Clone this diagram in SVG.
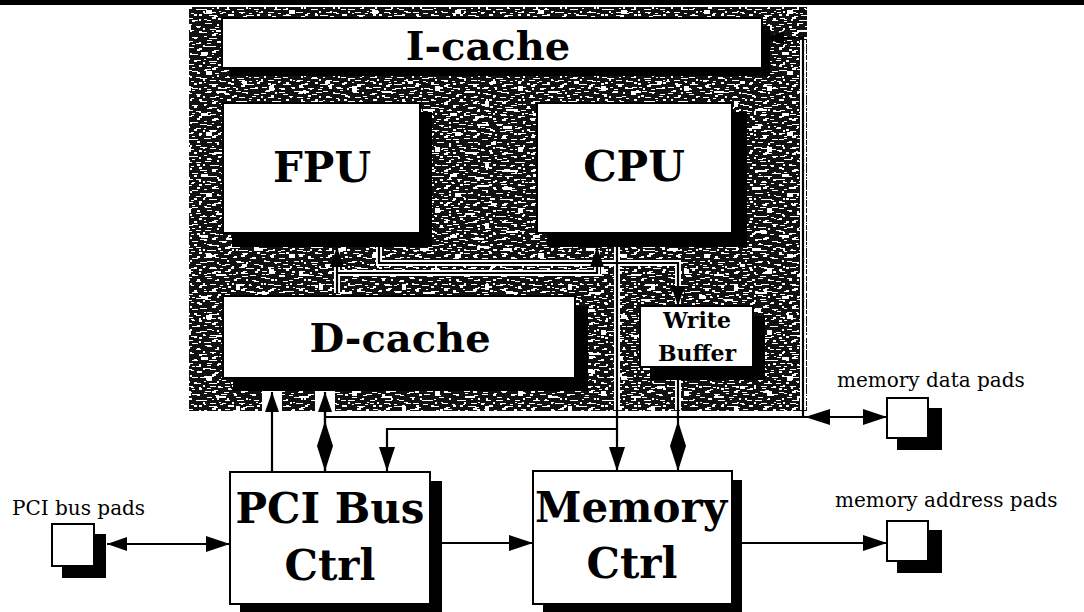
<svg xmlns="http://www.w3.org/2000/svg" width="1084" height="612" viewBox="0 0 1084 612">
<style>
.box{fill:#fff;stroke:#000;stroke-width:2}
.sh{fill:#000}
.big{font-family:"DejaVu Serif","Liberation Serif",serif;font-weight:bold;text-anchor:middle;fill:#000}
.lbl{font-family:"DejaVu Serif","Liberation Serif",serif;font-size:20px;fill:#000}
.w{fill:none;stroke:#000;stroke-width:2.2}
.halo{fill:none;stroke:#fff;stroke-width:6}
.pad{fill:#fff;stroke:#000;stroke-width:2}
</style>
<defs>
<pattern id="n1" width="37" height="23" patternUnits="userSpaceOnUse">
<rect width="37" height="23" fill="#111"/>
<path fill="#fff" d="M2 1h5v1h-5z M12 3h3v2h-3z M20 0h6v1h-6z M30 4h4v1h-4z M5 7h2v2h-2z M15 9h7v1h-7z M27 8h2v1h-2z M0 12h4v1h-4z M9 14h3v2h-3z M19 13h2v1h-2z M24 15h8v1h-8z M3 18h5v1h-5z M14 19h2v2h-2z M22 20h4v1h-4z M33 18h3v2h-3z M7 21h3v1h-3z M34 11h2v1h-2z"/>
</pattern>
<pattern id="n2" width="29" height="17" patternUnits="userSpaceOnUse">
<path fill="#fff" d="M1 2h3v1h-3z M9 0h4v2h-4z M18 3h6v1h-6z M4 6h5v1h-5z M14 7h2v2h-2z M22 9h5v1h-5z M0 11h2v2h-2z M7 12h6v1h-6z M17 13h3v1h-3z M25 14h3v2h-3z M11 16h4v1h-4z"/>
</pattern>
<pattern id="n3" width="83" height="61" patternUnits="userSpaceOnUse">
<path fill="#fff" d="M5 4h9v3h-9z M40 10h6v4h-6z M62 2h12v2h-12z M20 25h5v5h-5z M50 30h10v2h-10z M70 40h4v6h-4z M8 48h12v2h-12z M35 52h7v3h-7z M60 55h9v2h-9z M76 20h5v3h-5z"/>
</pattern>
<marker id="ar" markerUnits="userSpaceOnUse" markerWidth="24" markerHeight="16" refX="24" refY="8" orient="auto"><path d="M0,0 L24,8 L0,16 z" fill="#000"/></marker>
<marker id="ars" markerUnits="userSpaceOnUse" markerWidth="20" markerHeight="14" refX="20" refY="7" orient="auto"><path d="M0,0 L20,7 L0,14 z" fill="#000"/></marker>
<marker id="arst" markerUnits="userSpaceOnUse" markerWidth="20" markerHeight="14" refX="0" refY="7" orient="auto"><path d="M20,0 L0,7 L20,14 z" fill="#000"/></marker>
<marker id="dia" markerUnits="userSpaceOnUse" markerWidth="50" markerHeight="16" refX="50" refY="8" orient="auto"><path d="M0,8 L25,0 L50,8 L25,16 z" fill="#000"/></marker>
</defs>

<rect x="0" y="0" width="1084" height="5" fill="#000"/>

<g id="chip">
<rect x="189" y="7" width="618" height="404" fill="url(#n1)"/>
<rect x="189" y="7" width="618" height="404" fill="url(#n2)"/>
<rect x="189" y="7" width="618" height="404" fill="url(#n3)"/>
</g>

<g id="connectors">
<g class="halo">
<path d="M337,293 V250"/>
<path d="M337,273 H597 V250"/>
<path d="M379,247 V263 H678 V304"/>
<path d="M617,247 V410"/>
<path d="M678,380 V410"/>
<path d="M803,40 V410"/>
</g>
<rect x="262" y="391" width="20" height="21" fill="#fff"/>
<rect x="315" y="391" width="20" height="21" fill="#fff"/>
<path class="w" d="M337,293 V247" marker-end="url(#ars)"/>
<path class="w" d="M337,273 H597 V247" marker-end="url(#ars)"/>
<path class="w" d="M379,247 V263 H678 V306" marker-end="url(#ars)"/>
<path class="w" d="M803,417 V38 H764" marker-end="url(#ars)"/>
<path class="w" d="M617,247 V471" marker-end="url(#ar)"/>
<path class="w" d="M617,429 H387 V471" marker-end="url(#ar)"/>
<path class="w" d="M678,380 V471" marker-end="url(#dia)"/>
<path class="w" d="M272,471 V392" marker-end="url(#ars)"/>
<path class="w" d="M325,471 V392" marker-end="url(#ars)"/>
<path class="w" d="M325,410 V471" marker-end="url(#dia)"/>
<path class="w" d="M325,417 H887" marker-end="url(#ar)"/>
<polygon points="805,417 830,409 830,425" fill="#000"/>
<path class="w" d="M107,544 H230" marker-start="url(#arst)" marker-end="url(#ar)"/>
<path class="w" d="M442,543 H533" marker-end="url(#ar)"/>
<path class="w" d="M742,543 H887" marker-end="url(#ar)"/>
</g>

<g id="icache">
<rect class="sh" x="230" y="26" width="540" height="50"/>
<rect class="box" x="222" y="18" width="540" height="50"/>
<text class="big" x="488" y="60" font-size="40">I-cache</text>
</g>
<g id="fpu">
<rect class="sh" x="232" y="112" width="200" height="135"/>
<rect class="box" x="223" y="103" width="197" height="130"/>
<text class="big" x="322" y="182" font-size="42">FPU</text>
</g>
<g id="cpu">
<rect class="sh" x="547" y="112" width="200" height="135"/>
<rect class="box" x="537" y="103" width="195" height="130"/>
<text class="big" x="634" y="181" font-size="42">CPU</text>
</g>
<g id="dcache">
<rect class="sh" x="233" y="306" width="355" height="85"/>
<rect class="box" x="223" y="296" width="352" height="82"/>
<text class="big" x="400" y="352" font-size="40">D-cache</text>
</g>
<g id="wbuf">
<rect class="sh" x="650" y="316" width="115" height="64"/>
<rect class="box" x="640" y="306" width="113" height="61"/>
<text class="big" x="697" y="328" font-size="22">Write</text>
<text class="big" x="697" y="361" font-size="22">Buffer</text>
</g>
<g id="pcictrl">
<rect class="sh" x="240" y="481" width="202" height="131"/>
<rect class="box" x="230" y="472" width="200" height="132"/>
<text class="big" x="330" y="523" font-size="42">PCI Bus</text>
<text class="big" x="330" y="580" font-size="42">Ctrl</text>
</g>
<g id="memctrl">
<rect class="sh" x="543" y="480" width="199" height="132"/>
<rect class="box" x="533" y="471" width="199" height="133"/>
<text class="big" x="631" y="522" font-size="42">Memory</text>
<text class="big" x="632" y="578" font-size="42">Ctrl</text>
</g>
<g id="pcipads">
<rect class="sh" x="62" y="534" width="44" height="44"/>
<rect class="pad" x="52" y="524" width="42" height="42"/>
<text class="lbl" x="12" y="515">PCI bus pads</text>
</g>
<g id="datapads">
<rect class="sh" x="897" y="408" width="45" height="42"/>
<rect class="pad" x="887" y="398" width="41" height="40"/>
<text class="lbl" x="837" y="387">memory data pads</text>
</g>
<g id="addrpads">
<rect class="sh" x="897" y="530" width="45" height="43"/>
<rect class="pad" x="887" y="521" width="41" height="40"/>
<text class="lbl" x="835" y="507">memory address pads</text>
</g>
</svg>
